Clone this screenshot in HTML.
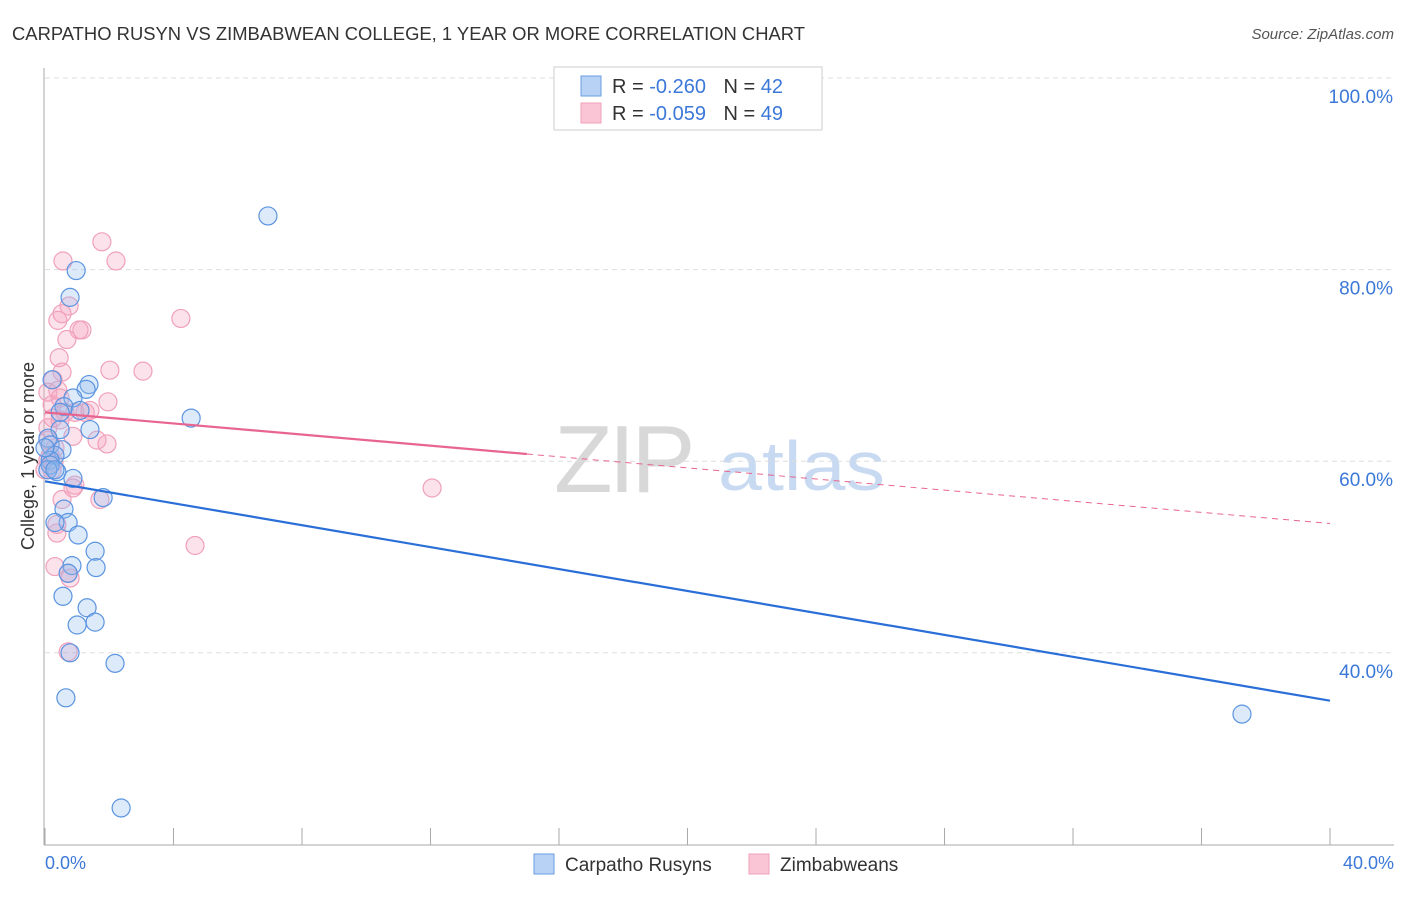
<!DOCTYPE html>
<html><head><meta charset="utf-8"><style>
body{margin:0;background:#fff;font-family:"Liberation Sans",sans-serif}
svg text{font-family:"Liberation Sans",sans-serif}
</style></head><body>
<svg id="chart" width="1406" height="892" xmlns="http://www.w3.org/2000/svg">
<text x="12" y="40" font-size="18" fill="#333" textLength="793" lengthAdjust="spacingAndGlyphs">CARPATHO RUSYN VS ZIMBABWEAN COLLEGE, 1 YEAR OR MORE CORRELATION CHART</text>
<text x="1394" y="39" font-size="15" fill="#555" font-style="italic" text-anchor="end">Source: ZipAtlas.com</text>
<g><text x="554" y="492" font-size="96" fill="#d8d8d8" font-family="Liberation Serif" letter-spacing="-4">ZIP</text><text x="718" y="490" font-size="70" fill="#c8daf2" textLength="167" lengthAdjust="spacingAndGlyphs">atlas</text></g>
<g id="grid"></g>
<g id="axes"></g>
<g id="marks"></g>
<text transform="translate(34,456) rotate(-90)" font-size="18" fill="#333" text-anchor="middle">College, 1 year or more</text>
<text x="45" y="869" font-size="18" fill="#3b78d8">0.0%</text>
<text x="1394" y="869" font-size="18" fill="#3b78d8" text-anchor="end">40.0%</text>
<g>
<rect x="554" y="67" width="268" height="63" fill="#fff" stroke="#ccc"/>
<rect x="581" y="76" width="20" height="20" fill="#b8d2f5" stroke="#6a9ee0"/>
<rect x="581" y="103" width="20" height="20" fill="#fac6d6" stroke="#f0a0bb"/>
<text x="612" y="93" font-size="20" fill="#333">R = <tspan fill="#3b78d8">-0.260</tspan>  <tspan dx="12">N = </tspan><tspan fill="#3b78d8">42</tspan></text>
<text x="612" y="120" font-size="20" fill="#333">R = <tspan fill="#3b78d8">-0.059</tspan>  <tspan dx="12">N = </tspan><tspan fill="#3b78d8">49</tspan></text>
</g>
<g>
<rect x="534" y="854" width="20" height="20" fill="#b8d2f5" stroke="#6a9ee0"/>
<text x="565" y="871" font-size="19" fill="#333">Carpatho Rusyns</text>
<rect x="749" y="854" width="20" height="20" fill="#fac6d6" stroke="#f0a0bb"/>
<text x="780" y="871" font-size="19" fill="#333">Zimbabweans</text>
</g>
</svg>
<script>
const yTicks=[40,60,80,100];
const yTickLabels=["40.0%","60.0%","80.0%","100.0%"];
const blueX=[6.94,0.97,0.78,1.37,1.28,4.55,0.87,0.59,0.22,1.40,0.47,0.09,0.16,0.53,0.31,0.16,0.37,0.87,1.81,0.59,0.72,0.31,1.03,1.56,0.84,1.59,0.72,0.56,1.31,1.00,1.56,0.78,2.18,0.65,2.37,37.26,0.16,0.09,0.31,0.47,1.09,0.0];
const blueY=[85.6,79.9,77.1,68.0,67.5,64.5,66.6,65.7,68.5,63.3,63.3,62.4,61.7,61.2,60.6,60.1,58.9,58.2,56.2,55.0,53.6,53.6,52.3,50.6,49.1,48.9,48.3,45.9,44.7,42.9,43.2,40.0,38.9,35.3,23.8,33.6,59.6,59.1,59.1,65.1,65.3,61.4];
const pinkX=[1.77,2.21,0.56,0.75,0.40,0.53,1.15,1.06,0.68,0.44,0.53,4.23,3.05,2.02,1.96,0.25,0.09,0.47,0.22,1.25,0.93,0.62,0.25,0.09,0.87,1.62,1.93,0.31,0.16,0.28,0.93,0.87,1.71,12.05,4.67,0.37,0.37,0.31,0.72,0.78,0.72,0.09,0.22,0.47,1.40,0.0,0.09,0.40,0.53];
const pinkY=[82.9,80.9,80.9,76.2,74.7,75.4,73.7,73.7,72.7,70.8,69.3,74.9,69.4,69.5,66.2,68.5,67.2,66.6,65.9,65.1,65.1,65.1,64.5,63.5,62.6,62.2,61.8,61.4,60.6,59.9,57.5,57.2,56.0,57.2,51.2,53.4,52.5,49.0,48.3,47.8,40.1,60.1,59.1,64.3,65.3,59.1,62.2,67.4,56.0];
const blueTrend=[57.9,35.0];
const pinkTrend=[65.1,53.5];
const pinkSolidEnd=15;
const NS="http://www.w3.org/2000/svg";
const sx=v=>45+v/40*1285;
const sy=v=>78+(100-v)*9.58;
function mk(t,a,p){const e=document.createElementNS(NS,t);for(const k in a)e.setAttribute(k,a[k]);document.getElementById(p).appendChild(e);return e;}
yTicks.forEach((t,i)=>{
 const g=mk('line',{x1:45,x2:1394,y1:sy(t),y2:sy(t),stroke:'#ddd','stroke-dasharray':'5,4'},'grid');
 
 
 const l=mk('text',{x:1393,y:sy(t)+25,'font-size':19,fill:'#3b78d8','text-anchor':'end'},'grid');
 l.textContent=yTickLabels[i];
 
 
});
const ax=mk('line',{x1:44,x2:44,y1:68,y2:845,stroke:'#aaa'},'axes');


const bx=mk('line',{x1:44,x2:1394,y1:845,y2:845,stroke:'#aaa'},'axes');


for(let i=0;i<=10;i++){
 const t=mk('line',{x1:sx(i*4),x2:sx(i*4),y1:828,y2:845,stroke:'#aaa'},'axes');
 
 
}
function pts(X,Y,fill,stroke,name){X.forEach((x,i)=>{
 const c=mk('circle',{cx:sx(x),cy:sy(Y[i]),r:9,fill:fill,stroke:stroke,'stroke-width':1.2},'marks');
 
 
});}
pts(pinkX,pinkY,'rgba(245,165,190,0.32)','#f0a0bb','zimbabwean-point');
pts(blueX,blueY,'rgba(150,190,240,0.32)','#5b94e0','carpatho-point');
const bt=mk('line',{x1:sx(0),y1:sy(blueTrend[0]),x2:sx(40),y2:sy(blueTrend[1]),stroke:'#2a6fd8','stroke-width':2.2},'marks');


const pm=v=>pinkTrend[0]+(pinkTrend[1]-pinkTrend[0])*v/40;
const pt=mk('line',{x1:sx(0),y1:sy(pinkTrend[0]),x2:sx(pinkSolidEnd),y2:sy(pm(pinkSolidEnd)),stroke:'#e8658f','stroke-width':2.2},'marks');


const pd=mk('line',{x1:sx(pinkSolidEnd),y1:sy(pm(pinkSolidEnd)),x2:sx(40),y2:sy(pinkTrend[1]),stroke:'#e8658f','stroke-width':1,'stroke-dasharray':'6,5'},'marks');


</script>
</body></html>
